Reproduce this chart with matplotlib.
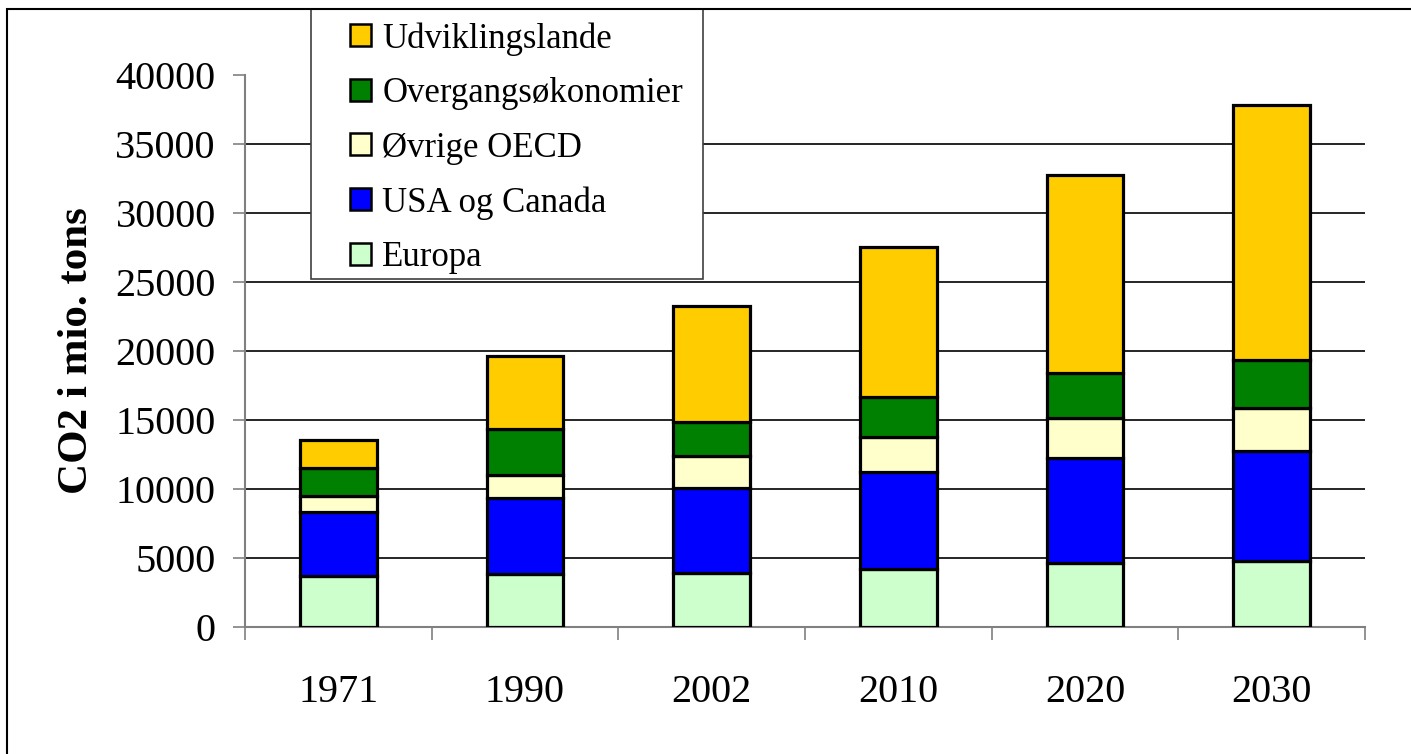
import numpy as np
import matplotlib.pyplot as plt
from matplotlib.patches import Rectangle
from matplotlib.ticker import FixedLocator

# Data (mio. tons CO2)
years = ['1971', '1990', '2002', '2010', '2020', '2030']
europa = [3700, 3850, 3890, 4230, 4670, 4800]
usa_canada = [4650, 5480, 6160, 6980, 7550, 7980]
oevrige_oecd = [1150, 1670, 2340, 2540, 2900, 3100]
overgang = [2050, 3330, 2490, 2890, 3260, 3460]
udvikling = [2000, 5310, 8380, 10900, 14380, 18460]

series = [
    ('Europa', europa, '#CCFFCC'),
    ('USA og Canada', usa_canada, '#0000FF'),
    ('Øvrige OECD', oevrige_oecd, '#FFFFCC'),
    ('Overgangsøkonomier', overgang, '#008000'),
    ('Udviklingslande', udvikling, '#FFCC00'),
]

plt.rcParams['font.family'] = ['Liberation Serif', 'DejaVu Serif']

fig = plt.figure(figsize=(14.11, 7.54), dpi=100)
ax = fig.add_axes([245 / 1411, 127 / 754, 1120 / 1411, 552 / 754])

x = np.arange(len(years))
bottom = np.zeros(len(years))
handles = []
for name, vals, col in series:
    b = ax.bar(x, vals, 0.41, bottom=bottom, color=col, edgecolor='black',
               linewidth=2.3, label=name, zorder=3)
    handles.append(b)
    bottom += np.array(vals)

ax.set_xlim(-0.5, len(years) - 0.5)
ax.set_ylim(0, 40000)
ax.set_yticks(np.arange(0, 40001, 5000))
ax.tick_params(axis='y', labelsize=29, length=9, width=1.2, color='#808080', pad=12)
ax.set_xticks(x)
ax.set_xticklabels(years)
ax.tick_params(axis='x', which='major', length=0, labelsize=29, pad=34)
ax.xaxis.set_minor_locator(FixedLocator(np.arange(-0.5, len(years), 1.0)))
ax.tick_params(axis='x', which='minor', length=9, width=1.2, color='#808080', direction='out')

ax.yaxis.grid(True, color='black', linewidth=1.2, zorder=0)
ax.get_ygridlines()[-1].set_visible(False)
ax.set_axisbelow(True)

for s in ['top', 'right']:
    ax.spines[s].set_visible(False)
for s in ['left', 'bottom']:
    ax.spines[s].set_color('#808080')
    ax.spines[s].set_linewidth(1.5)

ax.set_ylabel('CO2 i mio. tons', fontsize=31, fontweight='bold', labelpad=14)

# legend without its own frame; frame drawn as a separate box
leg = ax.legend(handles[::-1], [s[0] for s in series][::-1], fontsize=25,
                loc='upper left', bbox_to_anchor=(350 / 1411, 1 - 22 / 754),
                bbox_transform=fig.transFigure, frameon=False,
                handlelength=0.6, handleheight=0.6,
                handletextpad=0.33, labelspacing=0.62, borderpad=0,
                borderaxespad=0)
leg.set_zorder(10)
for h in leg.legend_handles:
    h.set_linewidth(1.8)

ax.add_patch(Rectangle((311 / 1411, 1 - 279 / 754), 392 / 1411, 270 / 754,
                       transform=fig.transFigure, facecolor='white',
                       edgecolor='#404040', linewidth=1.2, zorder=9,
                       clip_on=False))

# outer chart border
fig.patches.append(Rectangle((7 / 1411, -0.01), 1.02, 1 - 9 / 754 + 0.01,
                             transform=fig.transFigure, fill=False,
                             edgecolor='black', linewidth=1.5))

fig.savefig('out.png', dpi=100)
